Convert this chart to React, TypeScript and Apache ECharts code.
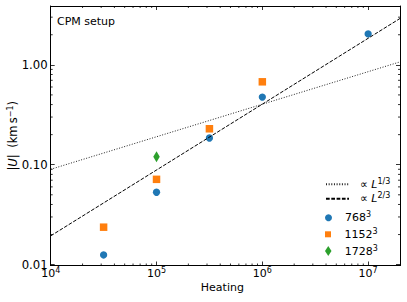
import React, { useEffect, useRef } from 'react';
import * as echarts from 'echarts';

const FONT = 'DejaVu Sans';

// axis ranges
const xRange = [1e4, 2e7];
const yRange = [0.0098, 3.88];

// data: heating vs |U|
const heat768 = [31623, 1e5, 316228, 1e6, 1e7];
const u768 = [0.0125, 0.053, 0.185, 0.475, 2.04];
const heat1152 = [31623, 1e5, 316228, 1e6];
const u1152 = [0.0237, 0.0714, 0.229, 0.676];
const heat1728 = [1e5];
const u1728 = [0.12];

// reference power-law lines (endpoints)
const fitX = [1e4, 2e7];
const fitThird = [0.09, 1.07];
const fitTwoThirds = [0.0194, 2.91];

// minor tick values
const xMinorTicks = [2e4, 3e4, 4e4, 5e4, 6e4, 7e4, 8e4, 9e4, 2e5, 3e5, 4e5, 5e5, 6e5, 7e5, 8e5, 9e5, 2e6, 3e6, 4e6, 5e6, 6e6, 7e6, 8e6, 9e6];
const yMinorTicks = [0.02, 0.03, 0.04, 0.05, 0.06, 0.07, 0.08, 0.09, 0.2, 0.3, 0.4, 0.5, 0.6, 0.7, 0.8, 0.9, 2, 3];

const legendLabels: Record<string, string> = {
  'L13': '{p|∝}{b| }{i|L}{s|1/3}',
  'L23': '{p|∝}{b| }{i|L}{s|2/3}',
  '768': '{b|768}{s|3}',
  '1152': '{b|1152}{s|3}',
  '1728': '{b|1728}{s|3}',
};

const isPow10 = (v: number) => Math.abs(Math.log10(v) - Math.round(Math.log10(v))) < 1e-6;

const richLegend = {
  b: { fontFamily: FONT, fontSize: 11, lineHeight: 14, color: '#000' },
  p: { fontFamily: FONT, fontSize: 11, lineHeight: 14, color: '#000', padding: [0, 0, 0, 6] },
  i: { fontFamily: FONT, fontSize: 11, lineHeight: 14, color: '#000', fontStyle: 'italic' },
  s: { fontFamily: FONT, fontSize: 8, lineHeight: 8, color: '#000', verticalAlign: 'top' },
};

const MAJOR = 4;
const MINOR = 2;

export default function App() {
  const ref = useRef<HTMLDivElement>(null);
  useEffect(() => {
    document.body.style.margin = '0';
    const chart = echarts.init(ref.current!, null, { renderer: 'svg' });
    const axisLine = { show: true, onZero: false, lineStyle: { color: '#000', width: 1 } };
    const axisTick = { show: true, inside: true, length: MAJOR, lineStyle: { color: '#000', width: 0.8 } };
    const tickStyle = { stroke: '#000', lineWidth: 0.8 };
    const legendBase = {
      orient: 'vertical',
      left: 325,
      padding: 0,
      itemWidth: 23,
      itemGap: 2,
      selectedMode: false,
      formatter: (name: string) => legendLabels[name],
      textStyle: { fontFamily: FONT, fontSize: 11, color: '#000', rich: richLegend },
    };
    chart.setOption({
      animation: false,
      backgroundColor: '#fff',
      textStyle: { fontFamily: FONT },
      title: {
        text: 'CPM setup',
        left: 57,
        top: 14.8,
        padding: 0,
        textStyle: { fontFamily: FONT, fontSize: 11, fontWeight: 'normal', color: '#000', lineHeight: 13 },
      },
      grid: { left: 50.7, right: 7, top: 6, bottom: 36.5, containLabel: false, outerBoundsMode: 'none' },
      legend: [
        {
          ...legendBase, top: 177.3, itemHeight: 7,
          data: [
            { name: 'L13', itemStyle: { opacity: 0 } },
            { name: 'L23', itemStyle: { opacity: 0 } },
          ],
        },
        { ...legendBase, top: 210.7, itemHeight: 7, data: [{ name: '768', icon: 'circle' }] },
        { ...legendBase, top: 227.3, itemHeight: 6, data: [{ name: '1152', icon: 'path://M0,0H1V1H0Z' }] },
        { ...legendBase, top: 244, itemHeight: 10, data: [{ name: '1728', icon: 'path://M0,-5L3.25,0L0,5L-3.25,0Z' }] },
      ],
      xAxis: [
        {
          type: 'log', logBase: 10, min: xRange[0], max: xRange[1], position: 'bottom',
          name: 'Heating', nameLocation: 'middle', nameGap: 15, nameMoveOverlap: false,
          nameTextStyle: { fontFamily: FONT, fontSize: 11, color: '#000', lineHeight: 13, padding: [0, 6, 0, 0] },
          axisLine, axisTick, splitLine: { show: false }, minorTick: { show: false },
          axisLabel: {
            margin: 1,
            color: '#000',
            formatter: (v: number) => (isPow10(v) ? `{b|10}{s|${Math.round(Math.log10(v))}}` : ''),
            rich: {
              b: { fontFamily: FONT, fontSize: 11, lineHeight: 14, color: '#000' },
              s: { fontFamily: FONT, fontSize: 8, lineHeight: 8, color: '#000', verticalAlign: 'top' },
            },
          },
        },
        {
          type: 'log', logBase: 10, min: xRange[0], max: xRange[1], position: 'top',
          axisLine, axisTick, splitLine: { show: false }, axisLabel: { show: false },
        },
      ],
      yAxis: [
        {
          type: 'log', logBase: 10, min: yRange[0], max: yRange[1], position: 'left',
          name: '{b||}{i|U}{b||}{g| (km\u2009s}{s|−1}{b|)}', nameLocation: 'middle', nameRotate: 90,
          nameGap: 30.4, nameMoveOverlap: false,
          nameTextStyle: {
            fontFamily: FONT, fontSize: 11.5, color: '#000',
            rich: {
              b: { fontFamily: FONT, fontSize: 11.5, lineHeight: 14, color: '#000' },
              g: { fontFamily: FONT, fontSize: 11.5, lineHeight: 14, color: '#000', padding: [0, 0, 0, 3] },
              i: { fontFamily: FONT, fontSize: 11.5, lineHeight: 14, color: '#000', fontStyle: 'italic' },
              s: { fontFamily: FONT, fontSize: 8, lineHeight: 8, color: '#000', verticalAlign: 'top' },
            },
          },
          axisLine, axisTick, splitLine: { show: false }, minorTick: { show: false },
          axisLabel: {
            margin: 3,
            color: '#000',
            fontFamily: FONT,
            fontSize: 11.7,
            formatter: (v: number) => (isPow10(v) ? v.toFixed(2) : ''),
          },
        },
        {
          type: 'log', logBase: 10, min: yRange[0], max: yRange[1], position: 'right',
          axisLine, axisTick, splitLine: { show: false }, axisLabel: { show: false },
        },
      ],
      series: [
        {
          name: 'L13', type: 'line', symbol: 'none', showSymbol: false,
          data: fitX.map((x, i) => [x, fitThird[i]]),
          lineStyle: { color: '#222', width: 1, type: [1, 1.65] },
          itemStyle: { color: '#222' },
        },
        {
          name: 'L23', type: 'line', symbol: 'none', showSymbol: false,
          data: fitX.map((x, i) => [x, fitTwoThirds[i]]),
          lineStyle: { color: '#000', width: 1, type: [3.7, 1.6] },
          itemStyle: { color: '#000' },
        },
        {
          name: '768', type: 'scatter', symbol: 'circle', symbolSize: 7.3,
          data: heat768.map((x, i) => [x, u768[i]]),
          itemStyle: { color: '#1f77b4', opacity: 1 },
        },
        {
          name: '1152', type: 'scatter', symbol: 'rect', symbolSize: 7.5,
          data: heat1152.map((x, i) => [x, u1152[i]]),
          itemStyle: { color: '#ff7f0e', opacity: 1 },
        },
        {
          name: '1728', type: 'scatter', symbol: 'diamond', symbolSize: [6.5, 11],
          data: heat1728.map((x, i) => [x, u1728[i]]),
          itemStyle: { color: '#2ca02c', opacity: 1 },
        },
        {
          name: 'xminor', type: 'custom', silent: true,
          data: xMinorTicks.map((v) => [v, 1]),
          renderItem: (params: any, api: any) => {
            const p = api.coord([api.value(0), 1]);
            const cs = params.coordSys;
            const top = cs.y;
            const bottom = cs.y + cs.height;
            return {
              type: 'group',
              children: [
                { type: 'line', shape: { x1: p[0], y1: bottom, x2: p[0], y2: bottom - MINOR }, style: tickStyle },
                { type: 'line', shape: { x1: p[0], y1: top, x2: p[0], y2: top + MINOR }, style: tickStyle },
              ],
            };
          },
        },
        {
          name: 'yminor', type: 'custom', silent: true,
          data: yMinorTicks.map((v) => [1e5, v]),
          renderItem: (params: any, api: any) => {
            const p = api.coord([1e5, api.value(1)]);
            const cs = params.coordSys;
            const left = cs.x;
            const right = cs.x + cs.width;
            return {
              type: 'group',
              children: [
                { type: 'line', shape: { x1: left, y1: p[1], x2: left + MINOR, y2: p[1] }, style: tickStyle },
                { type: 'line', shape: { x1: right, y1: p[1], x2: right - MINOR, y2: p[1] }, style: tickStyle },
              ],
            };
          },
        },
      ],
    });
    return () => chart.dispose();
  }, []);
  return <div ref={ref} style={{ width: 407, height: 302 }} />;
}
